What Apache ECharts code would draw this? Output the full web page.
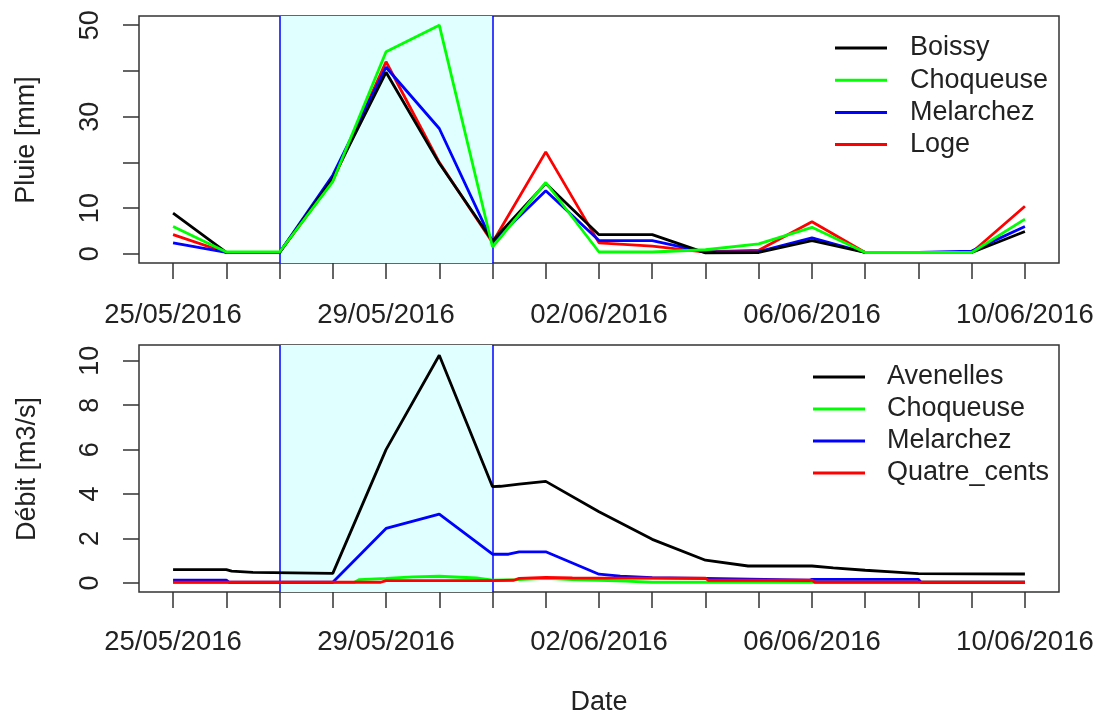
<!DOCTYPE html>
<html>
<head>
<meta charset="utf-8">
<script src="https://cdn.jsdelivr.net/npm/echarts@6/dist/echarts.min.js"></script>
<style>html,body{margin:0;padding:0;background:#fff}#c{width:1099px;height:714px}</style>
</head>
<body>
<div id="c"></div>
<script>
// ---- data ----
const dates = ['25/05/2016','26/05/2016','27/05/2016','28/05/2016','29/05/2016','30/05/2016','31/05/2016',
  '01/06/2016','02/06/2016','03/06/2016','04/06/2016','05/06/2016','06/06/2016','07/06/2016','08/06/2016','09/06/2016','10/06/2016'];
const dayTicks = [0,1,2,3,4,5,6,7,8,9,10,11,12,13,14,15,16];
const dayLabels = [0,4,8,12,16];
const eventStart = 2, eventEnd = 6;

// rain (mm), one value per day
const pluieBoissy    = [8.9,0.3,0.3,16.5,39.7,19.8,2.8,15.4,4.2,4.2,0.2,0.3,2.9,0.3,0.3,0.3,4.9];
const pluieChoqueuse = [6.0,0.4,0.4,15.8,44.2,50.0,1.5,15.6,0.4,0.4,0.9,2.2,5.8,0.3,0.3,0.3,7.6];
const pluieMelarchez = [2.4,0.3,0.3,17.2,40.8,27.4,2.5,13.8,2.9,2.9,0.4,0.5,3.5,0.3,0.3,0.6,6.0];
const pluieLoge      = [4.2,0.3,0.3,16.0,42.0,20.0,2.5,22.3,2.4,1.7,0.4,0.8,7.0,0.3,0.3,0.3,10.4];
const pluieTicks = [0,10,20,30,40,50];
const pluieTickLabels = [0,10,30,50];

// discharge (m3/s), time in days since 25/05/2016
const qAvenellesT = [0,1,1.1,1.5,3,4,5,6,6.15,6.5,7,8,9,10,10.8,12,12.4,13,13.5,14,16];
const qAvenellesV = [0.6,0.6,0.53,0.47,0.43,6.0,10.25,4.33,4.35,4.45,4.57,3.2,1.96,1.02,0.76,0.76,0.68,0.57,0.5,0.42,0.4];
const qChoqueuseT = [0,3.4,3.5,4,4.5,5,5.7,6,6.5,7,7.5,8,8.5,9,16];
const qChoqueuseV = [0.02,0.02,0.15,0.2,0.27,0.3,0.22,0.12,0.15,0.2,0.15,0.12,0.08,0.03,0.03];
const qMelarchezT = [0,1,1.05,3,4,5,6,6.3,6.5,7,8,8.4,9,10,11.95,12,14,14.05,16];
const qMelarchezV = [0.12,0.12,0.03,0.03,2.45,3.1,1.29,1.29,1.4,1.4,0.39,0.3,0.24,0.2,0.12,0.16,0.16,0.03,0.03];
const qQuatreT = [0,3.9,4,6,6.4,6.5,7,7.5,10,10.05,12,12.05,16];
const qQuatreV = [0.03,0.03,0.1,0.1,0.12,0.2,0.25,0.22,0.21,0.12,0.12,0.03,0.03];
const debitTicks = [0,2,4,6,8,10];

// ---- chart ----
const FONT = 'Liberation Sans, Arial, sans-serif';
const TXT = '#222';
const AX = '#333';
const FS = 27;
const zip = (t, v) => t.map((x, i) => [x, v[i]]);
const daily = v => v.map((y, i) => [i, y]);

function xAxisCfg(gi, margin) {
  return {
    type: 'value', gridIndex: gi, min: -0.64, max: 16.64, position: 'bottom',
    axisLine: {show: false, onZero: false},
    splitLine: {show: false},
    axisTick: {show: true, customValues: dayTicks, length: 16, lineStyle: {color: AX, width: 1.5}},
    axisLabel: {show: true, customValues: dayLabels, margin: margin, fontSize: 27.5, fontFamily: FONT, color: TXT,
      formatter: v => dates[Math.round(v)]}
  };
}
function yAxisCfg(gi, min, max, ticks, labels) {
  return {
    type: 'value', gridIndex: gi, min: min, max: max, position: 'left',
    axisLine: {show: false, onZero: false},
    splitLine: {show: false},
    axisTick: {show: true, customValues: ticks, length: 16, lineStyle: {color: AX, width: 1.5}},
    axisLabel: {show: true, customValues: labels, rotate: 90, margin: 35, fontSize: FS, fontFamily: FONT, color: TXT}
  };
}
function lineSeries(name, color, data, xi, extra) {
  return Object.assign({
    name: name, type: 'line', xAxisIndex: xi, yAxisIndex: xi, data: data,
    symbol: 'none', color: color, lineStyle: {color: color, width: 2.8}, animation: false, silent: true
  }, extra || {});
}
const shade = {
  markArea: {silent: true, z: 1, itemStyle: {color: '#E0FFFF', borderWidth: 0},
    data: [[{xAxis: eventStart}, {xAxis: eventEnd}]]},
  markLine: {silent: true, z: 1, symbol: 'none', label: {show: false},
    lineStyle: {color: '#0000FF', width: 1.5, type: 'solid'},
    data: [{xAxis: eventStart}, {xAxis: eventEnd}]}
};

const chart = echarts.init(document.getElementById('c'), null, {renderer: 'canvas'});
chart.setOption({
  animation: false,
  backgroundColor: '#fff',
  grid: [
    {left: 139, top: 16, width: 920, height: 247, show: true, borderColor: AX, borderWidth: 1.5, backgroundColor: 'transparent'},
    {left: 139, top: 345, width: 920, height: 247, show: true, borderColor: AX, borderWidth: 1.5, backgroundColor: 'transparent'}
  ],
  xAxis: [xAxisCfg(0, 38), xAxisCfg(1, 36)],
  yAxis: [
    yAxisCfg(0, -2, 52, pluieTicks, pluieTickLabels),
    yAxisCfg(1, -0.41, 10.71, debitTicks, debitTicks)
  ],
  legend: [
    {orient: 'vertical', left: 835, top: 33, padding: 0, itemWidth: 52, itemHeight: 3, itemGap: 2.2, icon: 'rect',
      data: ['Boissy','Choqueuse','Melarchez','Loge'], selectedMode: false,
      textStyle: {fontSize: FS, fontFamily: FONT, color: TXT, lineHeight: 30, padding: [0,0,0,18]}},
    {orient: 'vertical', left: 813, top: 362, padding: 0, itemWidth: 52, itemHeight: 3, itemGap: 2, icon: 'rect',
      data: ['Avenelles','Choqueuse','Melarchez','Quatre_cents'], selectedMode: false,
      textStyle: {fontSize: FS, fontFamily: FONT, color: TXT, lineHeight: 30, padding: [0,0,0,17]}}
  ],
  graphic: [
    {type: 'text', x: 27, y: 140, rotation: Math.PI / 2,
      style: {text: 'Pluie [mm]', fontSize: FS, fontFamily: FONT, fill: TXT, textAlign: 'center', textVerticalAlign: 'middle'}},
    {type: 'text', x: 28, y: 469, rotation: Math.PI / 2,
      style: {text: 'Débit [m3/s]', fontSize: FS, fontFamily: FONT, fill: TXT, textAlign: 'center', textVerticalAlign: 'middle'}},
    {type: 'text', x: 599, y: 703,
      style: {text: 'Date', fontSize: FS, fontFamily: FONT, fill: TXT, textAlign: 'center', textVerticalAlign: 'middle'}}
  ],
  series: [
    lineSeries('Loge', '#FF0000', daily(pluieLoge), 0, shade),
    lineSeries('Melarchez', '#0000FF', daily(pluieMelarchez), 0),
    lineSeries('Boissy', '#000000', daily(pluieBoissy), 0),
    lineSeries('Choqueuse', '#00FF00', daily(pluieChoqueuse), 0),
    lineSeries('Avenelles', '#000000', zip(qAvenellesT, qAvenellesV), 1, shade),
    lineSeries('Choqueuse', '#00FF00', zip(qChoqueuseT, qChoqueuseV), 1),
    lineSeries('Melarchez', '#0000FF', zip(qMelarchezT, qMelarchezV), 1),
    lineSeries('Quatre_cents', '#FF0000', zip(qQuatreT, qQuatreV), 1)
  ]
});
</script>
</body>
</html>
